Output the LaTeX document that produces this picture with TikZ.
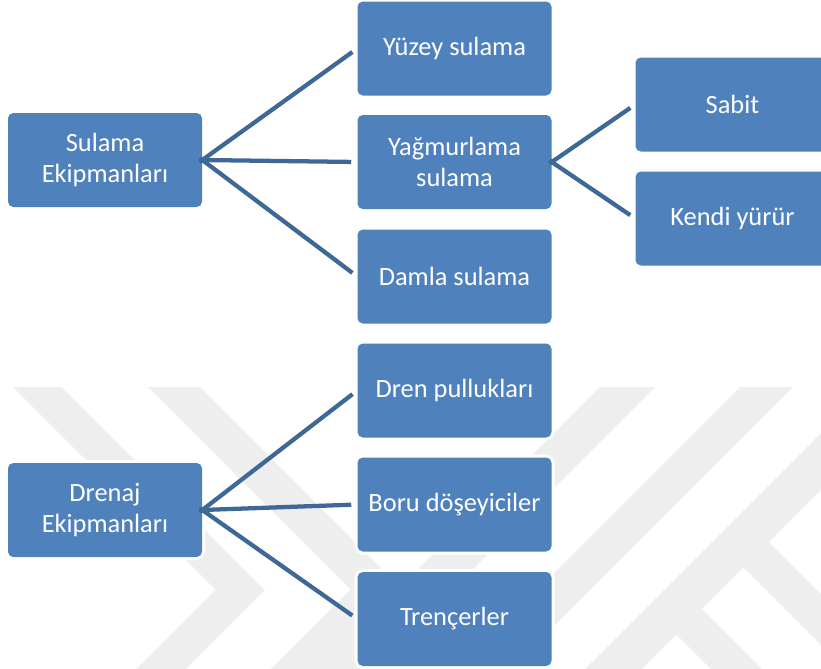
\documentclass[tikz,border=0pt]{standalone}
\usepackage{fontspec}
\setmainfont{Carlito}
\definecolor{boxblue}{HTML}{4F81BD}
\definecolor{linkblue}{HTML}{3E6896}
\definecolor{wmgray}{RGB}{238,238,238}
\begin{document}
\begin{tikzpicture}[x=0.75pt,y=-0.75pt,
  item/.style={rectangle, rounded corners=4pt, fill=boxblue,
    preaction={draw=white, line width=4.5pt},
    minimum width=145.5pt, minimum height=70.5pt, inner sep=2pt,
    text=white, align=center, font=\fontsize{19.8}{23.5}\selectfont},
  link/.style={draw=linkblue, line width=3.2pt, shorten <=-2.25pt, shorten >=4.5pt}]
\useasboundingbox (0,0) rectangle (821,668);
\clip (0,0) rectangle (821,668);

% faint background emblem made of diagonal bands
\begin{scope}
  \clip (0,387) rectangle (821,668);
  \fill[wmgray] (13,387) -- (62,387) -- (265,590) -- (155,700) -- (105,700) -- (215.5,589.5) -- cycle;
  \fill[wmgray] (148,387) -- (200,387) -- (401.5,588.5) -- (290,700) -- (240,700) -- (350.5,589.5) -- cycle;
  \fill[wmgray] (600,387) -- (655,387) -- (342,700) -- (287,700) -- cycle;
  \fill[wmgray] (740,387) -- (793,387) -- (480,700) -- (427,700) -- cycle;
  \fill[wmgray] (867,387) -- (924,387) -- (611,700) -- (554,700) -- cycle;
  \fill[wmgray] (769,542) -- (900,673) -- (900,724) -- (743.5,567.5) -- cycle;
  \fill[wmgray] (702,609) -- (900,807) -- (900,858) -- (676.5,634.5) -- cycle;
\end{scope}

% irrigation equipment
\node[item] (sul) at (105,160) {Sulama\\Ekipmanları};
\node[item] (yuz) at (454.5,48.5) {Yüzey sulama};
\node[item] (yag) at (454.5,162) {Yağmurlama\\sulama};
\node[item] (dam) at (454.5,276.5) {Damla sulama};
\node[item] (sab) at (732.5,104.5) {Sabit};
\node[item] (ken) at (732.5,218.5) {Kendi yürür};

% drainage equipment
\node[item] (dre) at (105,510) {Drenaj\\Ekipmanları};
\node[item] (drp) at (454.5,390.5) {Dren pullukları};
\node[item] (bor) at (454.5,504.5) {Boru döşeyiciler};
\node[item] (tre) at (454.5,619) {Trençerler};

\draw[link] (sul.east) -- (yuz.west);
\draw[link] (sul.east) -- (yag.west);
\draw[link] (sul.east) -- (dam.west);
\draw[link] (yag.east) -- (sab.west);
\draw[link] (yag.east) -- (ken.west);
\draw[link] (dre.east) -- (drp.west);
\draw[link] (dre.east) -- (bor.west);
\draw[link] (dre.east) -- (tre.west);
\end{tikzpicture}
\end{document}
